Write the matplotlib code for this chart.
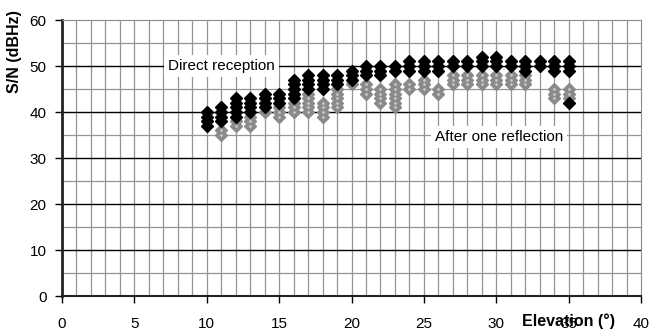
import matplotlib
matplotlib.use("Agg")
import matplotlib.pyplot as plt
import numpy as np

plt.rcParams["font.family"] = ["Liberation Sans", "DejaVu Sans"]

# ── Data (S/N in dBHz per elevation in degrees) ────────────────────────────────
elevations = list(range(10, 36))

direct_snr = [
    [37, 38, 39, 40],          # 10
    [38, 39, 40, 41],          # 11
    [39, 40, 41, 42, 43],      # 12
    [40, 41, 42, 43],          # 13
    [41, 42, 43, 44],          # 14
    [42, 43, 44],              # 15
    [43, 44, 45, 46, 47],      # 16
    [45, 46, 47, 48],          # 17
    [45, 46, 47, 48],          # 18
    [46, 47, 48],              # 19
    [47, 48, 49],              # 20
    [48, 49, 50],              # 21
    [48, 49, 50],              # 22
    [49, 50],                  # 23
    [49, 50, 51],              # 24
    [49, 50, 51],              # 25
    [49, 50, 51],              # 26
    [50, 51],                  # 27
    [50, 51],                  # 28
    [50, 51, 52],              # 29
    [50, 51, 52],              # 30
    [50, 51],                  # 31
    [49, 50, 51],              # 32
    [50, 51],                  # 33
    [49, 50, 51],              # 34
    [42, 49, 50, 51],          # 35
]

reflected_snr = [
    [],                        # 10
    [35, 36],                  # 11
    [37, 38],                  # 12
    [37, 38, 39],              # 13
    [40],                      # 14
    [39, 40, 41],              # 15
    [40, 41, 42],              # 16
    [40, 41, 42, 43, 44],      # 17
    [39, 40, 41, 42],          # 18
    [41, 42, 43, 44, 45],      # 19
    [46],                      # 20
    [44, 45, 46],              # 21
    [42, 43, 44, 45],          # 22
    [41, 42, 43, 44, 45, 46],  # 23
    [45, 46],                  # 24
    [45, 46, 47],              # 25
    [44, 45],                  # 26
    [46, 47, 48],              # 27
    [46, 47, 48],              # 28
    [46, 47, 48],              # 29
    [46, 47, 48],              # 30
    [46, 47, 48],              # 31
    [46, 47, 48],              # 32
    [],                        # 33
    [43, 44, 45],              # 34
    [43, 44, 45],              # 35
]

xticks = [0, 5, 10, 15, 20, 25, 30, 35, 40]
yticks = [0, 10, 20, 30, 40, 50, 60]


def flatten(elevs, groups):
    xs, ys = [], []
    for e, vals in zip(elevs, groups):
        xs += [e] * len(vals)
        ys += vals
    return np.array(xs), np.array(ys)


dx, dy = flatten(elevations, direct_snr)
rx, ry = flatten(elevations, reflected_snr)

# ── Plot ───────────────────────────────────────────────────────────────────────
fig = plt.figure(figsize=(6.49, 3.31), dpi=100)
ax = fig.add_axes([62 / 649, 35 / 331, 579 / 649, 276 / 331])

ax.set_xlim(0, 40)
ax.set_ylim(0, 60)

# grid: vertical every degree, horizontal minor every 5, major every 10
for xv in range(1, 40):
    ax.axvline(xv, color="#959595", lw=0.9, zorder=0)
for yv in range(5, 60, 10):
    ax.axhline(yv, color="#959595", lw=0.9, zorder=0)
for yv in range(10, 60, 10):
    ax.axhline(yv, color="black", lw=1.0, zorder=0)

ax.plot(rx, ry, "D", color="#8a8a8a", ms=6.5, mec="#8a8a8a", zorder=3)
ax.plot(rx, ry, "o", color="#c8c8c8", ms=2, mew=0, zorder=4)
ax.plot(dx, dy, "D", color="black", ms=6.5, zorder=5)

box = dict(facecolor="white", edgecolor="none", pad=3)
ax.text(11.0, 50, "Direct reception", ha="center", va="center",
        fontsize=11, bbox=box, zorder=6)
ax.text(30.2, 34.5, "After one reflection", ha="center", va="center",
        fontsize=11, bbox=box, zorder=6)

ax.set_xticks(xticks)
ax.set_yticks(yticks)
ax.tick_params(axis="x", length=5, width=1, pad=10, labelsize=11, direction="out")
ax.tick_params(axis="y", length=5, width=1, pad=6, labelsize=11, direction="out")

ax.spines["left"].set_linewidth(2)
ax.spines["left"].set_color("#222222")
ax.spines["bottom"].set_linewidth(1.5)
ax.spines["bottom"].set_color("#222222")
ax.spines["top"].set_color("#8c8c8c")
ax.spines["right"].set_color("#8c8c8c")

fig.text(15 / 649, 1 - 52 / 331, "S/N (dBHz)", rotation=90, ha="center",
         va="center", fontsize=11.5, fontweight="bold")
fig.text(568 / 649, 1 - 321 / 331, "Elevation (°)", ha="center", va="center",
         fontsize=11.5, fontweight="bold")

fig.savefig("out.png", dpi=100)
